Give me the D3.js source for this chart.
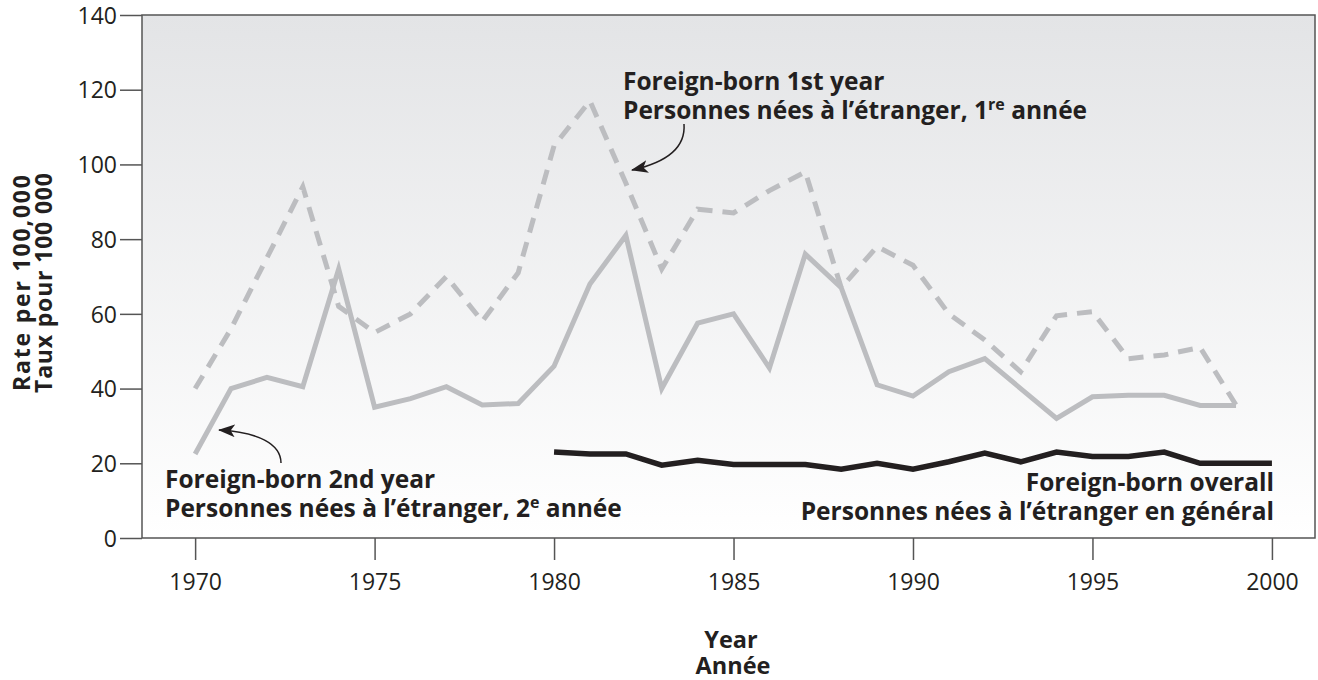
<!DOCTYPE html>
<html>
<head>
<meta charset="utf-8">
<script src="https://cdn.jsdelivr.net/npm/d3@7"></script>
<style>
  body { margin: 0; background: #fff; }
  text { font-family: "Open Sans", sans-serif; fill: #231f20; }
</style>
</head>
<body>
<div id="chart"></div>
<script>
// years and rates per 100,000
var yearsFirst = [1970,1971,1972,1973,1974,1975,1976,1977,1978,1979,1980,1981,1982,1983,1984,
                  1985,1986,1987,1988,1989,1990,1991,1992,1993,1994,1995,1996,1997,1998,1999];
var firstYear  = [40,56,75,94,62,55,60,70,58,71,105,117,95,72,88,
                  87,93,98,67,78,73,60,53,44.5,59.5,60.6,48,49,51,35.6];
var secondYear = [22.5,40,43,40.5,72,35,37.3,40.5,35.6,36,46,68,81,40,57.5,
                  60,45.5,76,67,41,38,44.5,48,40,32,37.8,38.2,38.2,35.5,35.5];
var yearsOverall = [1980,1981,1982,1983,1984,1985,1986,1987,1988,1989,1990,
                    1991,1992,1993,1994,1995,1996,1997,1998,1999,2000];
var overall = [23,22.5,22.5,19.5,20.8,19.7,19.7,19.7,18.4,20,18.4,
               20.4,22.7,20.4,23,21.8,21.8,23,20,20,20];
var xTicks = [1970,1975,1980,1985,1990,1995,2000];
var yTicks = [0,20,40,60,80,100,120,140];

var W = 1318, H = 680;
var mLeft = 142, mRight = 1315, mTop = 15, mBottom = 538;

var svg = d3.select("#chart").append("svg")
    .attr("width", W)
    .attr("height", H);

var defs = svg.append("defs");
var grad = defs.append("linearGradient")
    .attr("id", "bg")
    .attr("x1", 0).attr("y1", 0).attr("x2", 0).attr("y2", 1);
grad.append("stop").attr("offset", "0%").attr("stop-color", "#e3e4e6");
grad.append("stop").attr("offset", "100%").attr("stop-color", "#ffffff");

defs.append("marker")
    .attr("id", "head")
    .attr("markerUnits", "userSpaceOnUse")
    .attr("viewBox", "0 0 16 12")
    .attr("refX", 15).attr("refY", 6)
    .attr("markerWidth", 17).attr("markerHeight", 13)
    .attr("orient", "auto")
  .append("path")
    .attr("d", "M0,0 L16,6 L0,12 L4,6 Z")
    .attr("fill", "#231f20");

var x = d3.scaleLinear().domain([1968.52, 2001.2]).range([mLeft, mRight]);
var y = d3.scaleLinear().domain([0, 140]).range([mBottom, mTop]);

svg.append("rect")
    .attr("x", mLeft).attr("y", mTop)
    .attr("width", mRight - mLeft).attr("height", mBottom - mTop)
    .attr("fill", "url(#bg)");

// axes
var yAxis = svg.append("g")
    .attr("transform", "translate(" + mLeft + ",0)")
    .call(d3.axisLeft(y).tickValues(yTicks).tickSize(22).tickPadding(3));
var xAxis = svg.append("g")
    .attr("transform", "translate(0," + mBottom + ")")
    .call(d3.axisBottom(x).tickValues(xTicks).tickFormat(d3.format("d")).tickSize(22).tickPadding(14));

[yAxis, xAxis].forEach(function(g) {
    g.select(".domain").remove();
    g.selectAll("line").attr("stroke", "#555").attr("stroke-width", 1.5);
    g.selectAll("text")
        .attr("font-size", 23)
        .attr("font-family", "'Open Sans', sans-serif")
        .attr("fill", "#231f20");
});
yAxis.selectAll("text").attr("dy", "0.36em");

svg.append("rect")
    .attr("x", mLeft).attr("y", mTop)
    .attr("width", mRight - mLeft).attr("height", mBottom - mTop)
    .attr("fill", "none")
    .attr("stroke", "#555")
    .attr("stroke-width", 1.5);

var line = d3.line()
    .x(function(d) { return x(d[0]); })
    .y(function(d) { return y(d[1]); });

svg.append("path")
    .datum(d3.zip(yearsFirst, firstYear))
    .attr("d", line)
    .attr("fill", "none")
    .attr("stroke", "#bcbdc0")
    .attr("stroke-width", 5)
    .attr("stroke-dasharray", "15,10");

svg.append("path")
    .datum(d3.zip(yearsFirst, secondYear))
    .attr("d", line)
    .attr("fill", "none")
    .attr("stroke", "#bcbdc0")
    .attr("stroke-width", 5);

svg.append("path")
    .datum(d3.zip(yearsOverall, overall))
    .attr("d", line)
    .attr("fill", "none")
    .attr("stroke", "#231f20")
    .attr("stroke-width", 5.5);

// labels
function label(px, py, anchor, lines) {
    var t = svg.append("text")
        .attr("x", px).attr("y", py)
        .attr("text-anchor", anchor)
        .attr("font-size", 24.5)
        .attr("font-weight", "bold");
    lines.forEach(function(l, i) {
        var ts = t.append("tspan").attr("x", px).attr("dy", i === 0 ? 0 : 28.5);
        l.forEach(function(part) {
            if (part.sup) {
                ts.append("tspan").attr("font-size", 16).attr("dy", -9).text(part.sup);
                ts.append("tspan").attr("dy", 9).text(part.after);
            } else {
                ts.append("tspan").text(part.text);
            }
        });
    });
    return t;
}

label(623, 90, "start", [
    [{text: "Foreign-born 1st year"}],
    [{text: "Personnes nées à l\u2019étranger, 1"}, {sup: "re", after: " année"}]
]);
label(165, 488, "start", [
    [{text: "Foreign-born 2nd year"}],
    [{text: "Personnes nées à l\u2019étranger, 2"}, {sup: "e", after: " année"}]
]);
label(1274, 491, "end", [
    [{text: "Foreign-born overall"}],
    [{text: "Personnes nées à l\u2019étranger en général"}]
]);

// arrows
svg.append("path")
    .attr("d", "M684,124 C686,150 664,163 632,170")
    .attr("fill", "none")
    .attr("stroke", "#231f20")
    .attr("stroke-width", 1.5)
    .attr("marker-end", "url(#head)");
svg.append("path")
    .attr("d", "M281,463 C281,444 258,432 219,430")
    .attr("fill", "none")
    .attr("stroke", "#231f20")
    .attr("stroke-width", 1.5)
    .attr("marker-end", "url(#head)");

// axis titles
svg.append("text")
    .attr("transform", "translate(30,283) rotate(-90)")
    .attr("text-anchor", "middle")
    .attr("font-size", 23)
    .attr("font-weight", "bold")
    .attr("textLength", 216)
    .attr("lengthAdjust", "spacing")
    .text("Rate per 100,000");
svg.append("text")
    .attr("transform", "translate(52,283) rotate(-90)")
    .attr("text-anchor", "middle")
    .attr("font-size", 23)
    .attr("font-weight", "bold")
    .attr("textLength", 220)
    .attr("lengthAdjust", "spacing")
    .text("Taux pour 100 000");

svg.append("text")
    .attr("x", 731).attr("y", 648)
    .attr("text-anchor", "middle")
    .attr("font-size", 23.5)
    .attr("font-weight", "bold")
    .text("Year");
svg.append("text")
    .attr("x", 733).attr("y", 674)
    .attr("text-anchor", "middle")
    .attr("font-size", 23.5)
    .attr("font-weight", "bold")
    .text("Année");
</script>
</body>
</html>
